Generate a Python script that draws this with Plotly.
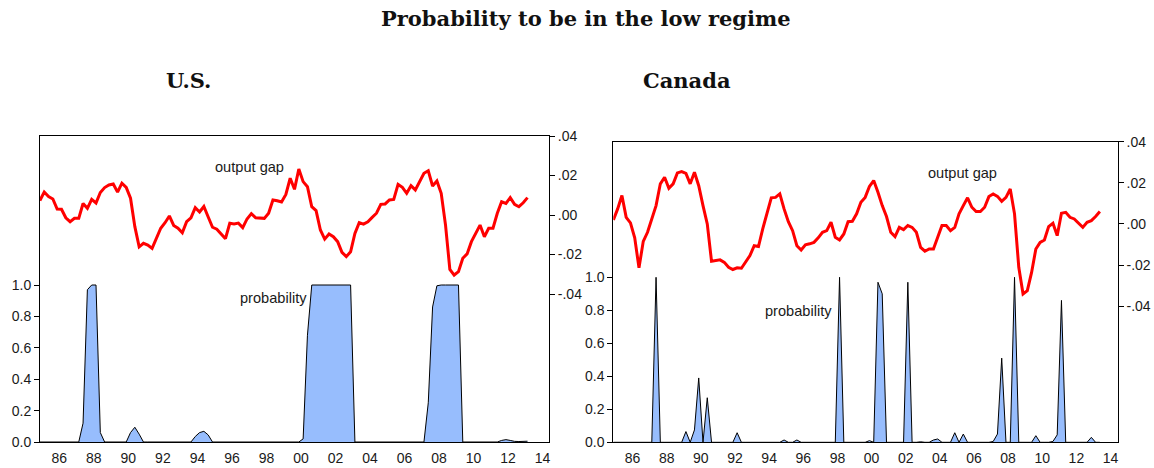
import pandas as pd
import plotly.graph_objects as go

W, H = 1154, 468

# Quarterly output gap and smoothed probability of the low regime, 1985Q2 onward
# (one row per calendar year)
us_gap = [
    0.0073, 0.0116, 0.0093,
    0.0081, 0.0030, 0.0029, -0.0014,
    -0.0034, -0.0017, -0.0017, 0.0058,
    0.0034, 0.0079, 0.0061, 0.0114,
    0.0139, 0.0152, 0.0157, 0.0116,
    0.0161, 0.0140, 0.0085, -0.0059,
    -0.0161, -0.0143, -0.0152, -0.0169,
    -0.0118, -0.0067, -0.0039, -0.0005,
    -0.0053, -0.0067, -0.0090, -0.0034,
    -0.0014, 0.0037, 0.0015, 0.0043,
    -0.0010, -0.0062, -0.0072, -0.0095,
    -0.0120, -0.0042, -0.0046, -0.0041,
    -0.0064, -0.0020, 0.0007, -0.0014,
    -0.0017, -0.0017, 0.0009, 0.0076,
    0.0072, 0.0066, 0.0104, 0.0186,
    0.0130, 0.0233, 0.0169, 0.0143,
    0.0042, 0.0022, -0.0076, -0.0122,
    -0.0096, -0.0110, -0.0135, -0.0189,
    -0.0211, -0.0186, -0.0093, -0.0039,
    -0.0046, -0.0034, -0.0012, 0.0009,
    0.0054, 0.0056, 0.0076, 0.0079,
    0.0155, 0.0140, 0.0110, 0.0148,
    0.0127, 0.0169, 0.0211, 0.0224,
    0.0147, 0.0172, 0.0110, -0.0051,
    -0.0275, -0.0304, -0.0287, -0.0219,
    -0.0197, -0.0135, -0.0096, -0.0051,
    -0.0110, -0.0067, -0.0067, 0.0009,
    0.0067, 0.0059, 0.0088, 0.0054,
    0.0042, 0.0062, 0.0088,
]
us_prob = [
    0, 0, 0,
    0, 0, 0, 0,
    0, 0, 0, 0.12,
    0.97, 1.0, 1.0, 0.06,
    0, 0, 0, 0,
    0, 0, 0.06, 0.094,
    0.05, 0, 0, 0,
    0, 0, 0, 0,
    0, 0, 0, 0,
    0, 0.035, 0.06, 0.068,
    0.045, 0, 0, 0,
    0, 0, 0, 0,
    0, 0, 0, 0,
    0, 0, 0, 0,
    0, 0, 0, 0,
    0, 0, 0.02, 0.68,
    1.0, 1.0, 1.0, 1.0,
    1.0, 1.0, 1.0, 1.0,
    1.0, 1.0, 0, 0,
    0, 0, 0, 0,
    0, 0, 0, 0,
    0, 0, 0, 0,
    0, 0, 0, 0.25,
    0.86, 0.995, 1.0, 1.0,
    1.0, 1.0, 1.0, 0,
    0, 0, 0, 0,
    0, 0, 0, 0,
    0.01, 0.015, 0.01, 0.004,
    0.003, 0.005, 0.005,
]
ca_gap = [
    0.0019, 0.0073, 0.0138,
    0.0032, 0.0005, -0.0068, -0.0214,
    -0.0085, -0.0041, 0.0024, 0.0089,
    0.0195, 0.0227, 0.0173, 0.0195,
    0.0248, 0.0255, 0.0246, 0.0195,
    0.0251, 0.0186, 0.0089, 0.0000,
    -0.0182, -0.0179, -0.0175, -0.0187,
    -0.0211, -0.0222, -0.0214, -0.0216,
    -0.0187, -0.0154, -0.0106, -0.0110,
    -0.0024, 0.0056, 0.0127, 0.0129,
    0.0146, 0.0073, 0.0011, -0.0033,
    -0.0106, -0.0127, -0.0102, -0.0097,
    -0.0090, -0.0068, -0.0041, -0.0033,
    0.0008, -0.0065, -0.0078, -0.0049,
    0.0011, 0.0013, 0.0049, 0.0105,
    0.0129, 0.0182, 0.0211, 0.0154,
    0.0089, 0.0036, -0.0041, -0.0062,
    -0.0017, -0.0028, -0.0008, -0.0017,
    -0.0041, -0.0114, -0.0133, -0.0122,
    -0.0122, -0.0065, -0.0008, -0.0008,
    -0.0033, -0.0017, 0.0049, 0.0089,
    0.0127, 0.0081, 0.0060, 0.0060,
    0.0081, 0.0133, 0.0146, 0.0134,
    0.0110, 0.0129, 0.0170, 0.0049,
    -0.0211, -0.0341, -0.0325, -0.0236,
    -0.0122, -0.0090, -0.0078, -0.0013,
    0.0003, -0.0057, 0.0052, 0.0056,
    0.0032, 0.0024, 0.0003, -0.0017,
    0.0008, 0.0016, 0.0036, 0.0060,
]
ca_prob = [
    0, 0, 0,
    0, 0, 0, 0,
    0, 0, 0, 1.0,
    0, 0, 0, 0,
    0, 0, 0.065, 0,
    0.075, 0.39, 0, 0.27,
    0, 0, 0, 0,
    0, 0, 0.058, 0,
    0, 0, 0, 0,
    0, 0, 0, 0,
    0, 0.014, 0, 0,
    0.014, 0, 0, 0,
    0, 0, 0, 0,
    0, 0, 1.0, 0,
    0, 0, 0, 0,
    0, 0.01, 0, 0.97,
    0.90, 0, 0, 0,
    0, 0, 0.97, 0,
    0, 0.003, 0, 0,
    0.014, 0.02, 0, 0,
    0, 0.058, 0, 0.05,
    0, 0, 0, 0,
    0, 0, 0.005, 0.05,
    0.51, 0, 0, 1.0,
    0, 0, 0, 0,
    0.04, 0, 0, 0,
    0.005, 0.045, 0.86, 0,
    0, 0, 0, 0,
    0, 0.03, 0, 0,
]

year_ticks = list(range(1986, 2015))
label_years = list(range(1986, 2015, 2))
label_text = [f"{y % 100:02d}" for y in label_years]
prob_ticks = [0.0, 0.2, 0.4, 0.6, 0.8, 1.0]
prob_text = ["0.0", "0.2", "0.4", "0.6", "0.8", "1.0"]
gap_ticks = [-0.04, -0.02, 0.0, 0.02, 0.04]
gap_text = ["-.04", "-.02", ".00", ".02", ".04"]


def quarter_positions(start, n):
    """Fractional-year position of each quarter's midpoint."""
    per = pd.period_range(start, periods=n, freq="Q")
    return list(per.year + (per.quarter - 1) / 4 + 0.125)


us_x = quarter_positions("1985Q2", len(us_gap))
ca_x = quarter_positions("1985Q2", len(ca_gap))

TICK_FONT = dict(family="Liberation Sans, Arial, sans-serif", size=14, color="#1a1a1a")
SANS = dict(family="Liberation Sans, Arial, sans-serif", size=14.6, color="#1a1a1a")
SERIF = dict(family="DejaVu Serif, serif", size=21, color="#111111")
FILL = "#97BDFD"
RED = "#FF0000"


def px_x(px):
    return px / W


def px_y(py):
    return 1 - py / H


fig = go.Figure()

# U.S. panel: probability area (left axis) under the output gap line (right axis)
fig.add_trace(go.Scatter(x=us_x, y=us_prob, xaxis="x", yaxis="y", mode="lines",
                         fill="tozeroy", fillcolor=FILL,
                         line=dict(color="#000000", width=1), hoverinfo="skip"))
fig.add_trace(go.Scatter(x=us_x, y=us_gap, xaxis="x", yaxis="y2", mode="lines",
                         line=dict(color=RED, width=3)))
# Canada panel
fig.add_trace(go.Scatter(x=ca_x, y=ca_prob, xaxis="x2", yaxis="y3", mode="lines",
                         fill="tozeroy", fillcolor=FILL,
                         line=dict(color="#000000", width=1), hoverinfo="skip"))
fig.add_trace(go.Scatter(x=ca_x, y=ca_gap, xaxis="x2", yaxis="y4", mode="lines",
                         line=dict(color=RED, width=3)))


def panel_axes(xdom, ydom, xrange, prob_top, gap_range, x, y_prob, y_gap, x_tick):
    common = dict(showgrid=False, zeroline=False, tickfont=TICK_FONT, automargin=False)
    name = lambda a: a[0] + "axis" + a[1:]
    return {
        # year labels centred on each year
        name(x): dict(domain=xdom, range=xrange, anchor=y_prob, tickmode="array",
                      tickvals=[y + 0.5 for y in label_years], ticktext=label_text,
                      ticks="outside", ticklen=3, tickcolor="rgba(0,0,0,0)",
                      showline=True, mirror=True, linecolor="#000000", linewidth=1,
                      **common),
        # tick marks at every year boundary
        name(x_tick): dict(overlaying=x, anchor=y_prob, range=xrange,
                           tickmode="array", tickvals=year_ticks, ticks="outside",
                           ticklen=6, tickcolor="#000000", tickwidth=1,
                           showticklabels=False, showline=False, **common),
        name(y_prob): dict(domain=ydom, range=[0, prob_top], anchor=x,
                           tickmode="array", tickvals=prob_ticks, ticktext=prob_text,
                           ticks="outside", ticklen=5, tickcolor="#000000",
                           showline=True, mirror=True, linecolor="#000000",
                           linewidth=1, **common),
        name(y_gap): dict(overlaying=y_prob, side="right", anchor=x, range=gap_range,
                          tickmode="array", tickvals=gap_ticks, ticktext=gap_text,
                          ticks="outside", ticklen=5, tickcolor="#000000",
                          showline=False, **common),
    }


axes = {}
axes.update(panel_axes([px_x(40), px_x(549)], [px_y(442), px_y(136)],
                       [1985.38, 2014.87], 1.949, [-0.11494, 0.04],
                       "x", "y", "y2", "x3"))
axes.update(panel_axes([px_x(613.3), px_x(1117.7)], [px_y(442.3), px_y(141.7)],
                       [1985.37, 2014.92], 1.8218, [-0.10628, 0.04],
                       "x2", "y3", "y4", "x4"))


def label(text, px, py, font, bold=False):
    return dict(text=f"<b>{text}</b>" if bold else text, x=px_x(px), y=px_y(py),
                xref="paper", yref="paper", xanchor="center", yanchor="middle",
                showarrow=False, font=font)


annotations = [
    label("Probability to be in the low regime", 586, 19, SERIF, bold=True),
    label("U.S.", 188, 80, SERIF, bold=True),
    label("Canada", 687, 80, SERIF, bold=True),
    label("output gap", 249.5, 167, SANS),
    label("probability", 273, 298, SANS),
    label("output gap", 962.5, 173, SANS),
    label("probability", 798, 311, SANS),
]

fig.update_layout(
    template="none",
    width=W, height=H, margin=dict(l=0, r=0, t=0, b=0, pad=0, autoexpand=False),
    paper_bgcolor="white", plot_bgcolor="white", showlegend=False,
    annotations=annotations, **axes,
)

fig.write_html("out.html")
